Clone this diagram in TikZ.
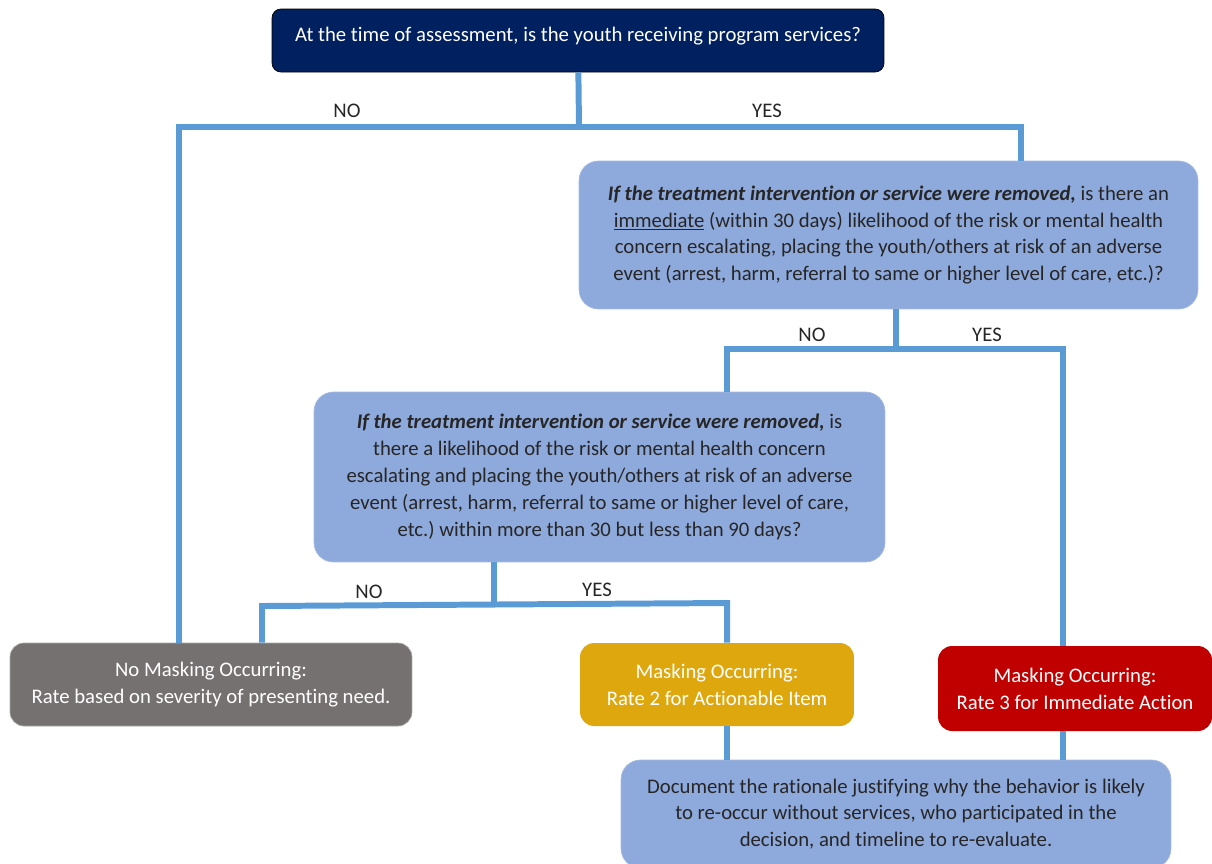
\documentclass[tikz,border=0pt]{standalone}
\usepackage{fontspec}
\setmainfont{Carlito}[Ligatures=NoCommon]
\usetikzlibrary{positioning}
\frenchspacing

\definecolor{navy}{RGB}{0,32,96}
\definecolor{qblue}{RGB}{142,169,219}
\definecolor{linkblue}{RGB}{91,155,213}
\definecolor{slate}{RGB}{118,113,113}
\definecolor{gold}{RGB}{223,167,14}
\definecolor{alarm}{RGB}{192,0,0}

\begin{document}
\begin{tikzpicture}[
  x=0.02cm, y=-0.02cm,
  every node/.style={font=\fontsize{11.8}{15.3}\selectfont},
  box/.style={rounded corners=11pt, align=center, inner sep=4pt},
  start/.style={box, rounded corners=5pt, draw=black, fill=navy, text=white, minimum width=12.24cm, minimum height=1.26cm, text depth=7pt},
  question/.style={box, draw=qblue!80!white, fill=qblue, text=black!85, minimum width=#1},
  outcome/.style={box, rounded corners=8pt, text=white, minimum width=5.48cm, minimum height=1.66cm},
  link/.style={draw=linkblue, line width=3.4pt},
  ans/.style={font=\fontsize{11.8}{12}\selectfont, text=black!85}
]
\useasboundingbox (0,0) rectangle (1212,863);

% Top question
\node[start] (top) at (578,40.5) {At the time of assessment, is the youth receiving program services?};

% Follow-up questions
\node[question=12.38cm, minimum height=2.96cm] (q1) at (888.5,235) {\textbf{\textit{If the treatment intervention or service were removed,}} is there an\\
  \underline{immediate} (within 30 days) likelihood of the risk or mental health\\
  concern escalating, placing the youth/others at risk of an adverse\\
  event (arrest, harm, referral to same or higher level of care, etc.)?};
\node[question=11.42cm, minimum height=3.4cm] (q2) at (599.5,477) {\textbf{\textit{If the treatment intervention or service were removed,}} is\\
  there a likelihood of the risk or mental health concern\\
  escalating and placing the youth/others at risk of an adverse\\
  event (arrest, harm, referral to same or higher level of care,\\
  etc.) within more than 30 but less than 90 days?};

% Outcomes
\node[outcome, draw=gray!70, fill=slate, minimum width=8.04cm] (nomask) at (211,684.5) {No Masking Occurring:\\Rate based on severity of presenting need.};
\node[outcome, fill=gold] (rate2) at (717,684.5) {Masking Occurring:\\Rate 2 for Actionable Item};
\node[outcome, fill=alarm, minimum height=1.7cm] (rate3) at (1075,688.5) {Masking Occurring:\\Rate 3 for Immediate Action};
\node[question=11cm, minimum height=2.16cm] (doc) at (896,814) {Document the rationale justifying why the behavior is likely\\
  to re-occur without services, who participated in the\\
  decision, and timeline to re-evaluate.};

% Branch points
\coordinate (j1) at (579,127);
\coordinate (no1) at (179,127);
\coordinate (yes1) at (1021,127);
\coordinate (j2) at (896,349);
\coordinate (no2) at (727,349);
\coordinate (yes2) at (1063,349);
\coordinate (j3) at (494,604);
\coordinate (no3) at (262,606);
\coordinate (yes3) at (727,603);

% Connectors
\draw[link] (top) -- (j1);
\draw[link] (nomask.north -| no1) -- (no1) -- (yes1) -- (q1.north -| yes1);
\draw[link] (q1.south -| j2) -- (j2);
\draw[link] (q2.north -| no2) -- (no2) -- (yes2) -- (rate3.north -| yes2);
\draw[link] (q2.south -| j3) -- (j3);
\draw[link] (nomask.north -| no3) -- (no3) -- (yes3) -- (rate2.north -| yes3);
\draw[link] (rate2.south -| yes3) -- (doc.north -| yes3);
\draw[link] (rate3.south -| yes2) -- (doc.north -| yes2);

% Answers
\node[ans] (n1) at (347,111) {NO};
\node[ans] (y1) at (767,111) {YES};
\node[ans] (n2) at (812,335) {NO};
\node[ans] (y2) at (987,335) {YES};
\node[ans] (n3) at (369,592) {NO};
\node[ans] (y3) at (597,590) {YES};

\end{tikzpicture}
\end{document}
